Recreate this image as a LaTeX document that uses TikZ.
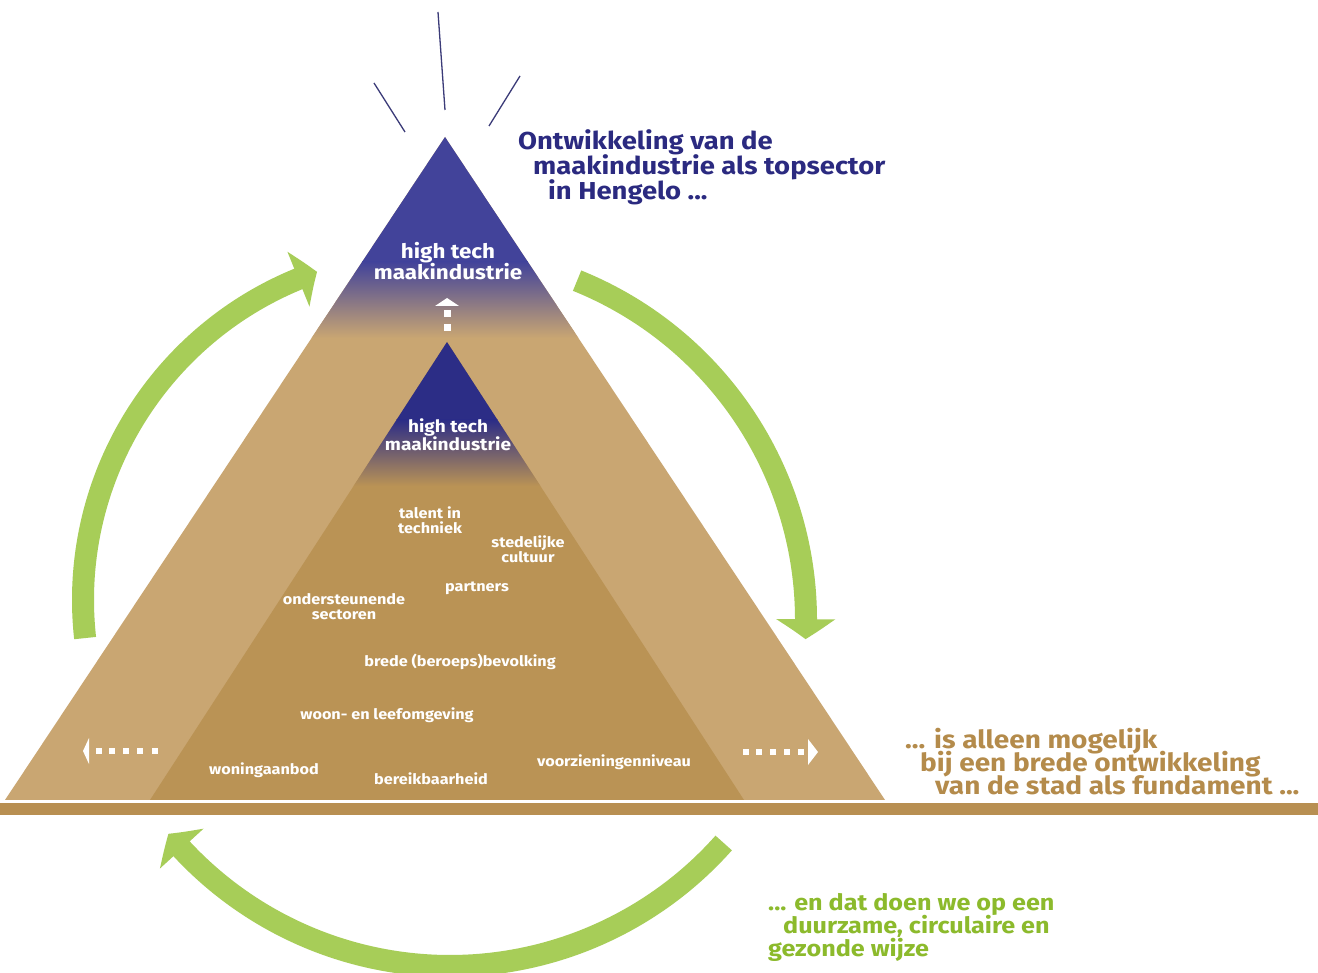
\documentclass[tikz,border=0pt]{standalone}
\usepackage{fontspec}
\setmainfont{Fira Sans}[FakeStretch=1.12]
\usetikzlibrary{arrows.meta,bending}
\definecolor{pblue}{HTML}{42439A}
\definecolor{iblue}{HTML}{2C2D86}
\definecolor{otan}{HTML}{C9A672}
\definecolor{itan}{HTML}{BA9355}
\definecolor{barc}{HTML}{B88F52}
\definecolor{grn}{HTML}{A7CD58}
\definecolor{tblue}{HTML}{2B2A80}
\definecolor{tbrown}{HTML}{B48B4B}
\definecolor{tgreen}{HTML}{8CBA2C}
\definecolor{rayc}{HTML}{3B3B78}
\begin{document}
\begin{tikzpicture}[x=1pt,y=-1pt,
  lbl/.style={text=white,font=\bfseries\fontsize{14.5}{15}\selectfont,align=center,inner sep=0pt},
  toplbl/.style={text=white,font=\bfseries\fontsize{20}{20}\selectfont,align=center,inner sep=0pt},
  innlbl/.style={text=white,font=\bfseries\fontsize{17}{18}\selectfont,align=center,inner sep=0pt},
  sidetxt/.style={anchor=base west,inner sep=0pt},
  bluetxt/.style={sidetxt,text=tblue,font=\bfseries\fontsize{24.5}{25}\selectfont},
  browntxt/.style={sidetxt,text=tbrown,font=\bfseries\fontsize{25}{25}\selectfont},
  greentxt/.style={sidetxt,text=tgreen,font=\bfseries\fontsize{22.5}{23}\selectfont},
  cyc/.style={draw=grn,line width=22pt,-{Triangle[width=58pt,length=20pt,bend]}},
  rayline/.style={draw=rayc,line width=1.3pt},
  dotsq/.style={fill=white}
]
\useasboundingbox (0,0) rectangle (1318,973);
\fill[white] (0,0) rectangle (1318,973);

% rays
\draw[rayline] (438,12) -- (445,110);
\draw[rayline] (374,83) -- (405,132);
\draw[rayline] (520,76) -- (489,126);

% outer pyramid
\begin{scope}
  \clip (445,137) -- (885,800) -- (5,800) -- cycle;
  \fill[otan] (0,130) rectangle (1318,800);
  \fill[pblue] (0,130) rectangle (1318,262);
  \shade[top color=pblue,bottom color=otan] (0,262) rectangle (1318,338);
\end{scope}

% inner pyramid
\begin{scope}
  \clip (447,342) -- (744,800) -- (150,800) -- cycle;
  \fill[itan] (0,340) rectangle (1318,800);
  \fill[iblue] (0,340) rectangle (1318,420);
  \shade[top color=iblue,bottom color=itan] (0,420) rectangle (1318,486);
\end{scope}

% base bar
\fill[barc] (0,803) rectangle (1318,815);

% dotted arrow up
\fill[dotsq] (447,298) -- (459,306) -- (435,306) -- cycle;
\fill[dotsq] (443.5,310.5) rectangle (450.5,317.5);
\fill[dotsq] (443.5,324.5) rectangle (450.5,331.5);

% dotted arrow left
\fill[dotsq] (83,751) -- (89,738) -- (89,764) -- cycle;
\foreach \x in {99,112,126,140,155}{\fill[dotsq] (\x-3,748) rectangle (\x+3,754);}
% dotted arrow right
\foreach \x in {746,759,773,787,801}{\fill[dotsq] (\x-3,749) rectangle (\x+3,755);}
\fill[dotsq] (818,752) -- (808,739) -- (808,765) -- cycle;

% green cycle arrows
\draw[cyc] (430,600) ++(186.3:347pt) arc[start angle=186.3, end angle=109, radius=347pt];
\draw[cyc] (440,620) ++(68:366pt) arc[start angle=68, end angle=-3, radius=366pt];
\draw[cyc] (450,600) ++(-41.6:366pt) arc[start angle=-41.6, end angle=-140.3, radius=366pt];

% labels inside pyramid
\node[toplbl] (topht) at (448,261) {high tech\\maakindustrie};
\node[innlbl] (innht) at (448,435) {high tech\\maakindustrie};
\node[lbl] (talent) at (430,520) {talent in\\techniek};
\node[lbl] (sted) at (528,549) {stedelijke\\cultuur};
\node[lbl] (partners) at (477,588) {partners};
\node[lbl] (onder) at (344,607) {ondersteunende\\sectoren};
\node[lbl] (brede) at (460,662) {brede (beroeps)bevolking};
\node[lbl] (woon) at (387,715) {woon- en leefomgeving};
\node[lbl] (woning) at (264,770) {woningaanbod};
\node[lbl] (bereik) at (431,779) {bereikbaarheid};
\node[lbl] (voorz) at (614,762) {voorzieningenniveau};

% side texts
\node[bluetxt] (ta) at (518,150) {Ontwikkeling van de};
\node[bluetxt] (tb) at (533,175) {maakindustrie als topsector};
\node[bluetxt] (tc) at (548,200) {in Hengelo ...};

\node[browntxt] (ba) at (905,748) {... is alleen mogelijk};
\node[browntxt] (bb) at (920,771) {bij een brede ontwikkeling};
\node[browntxt] (bc) at (935,794) {van de stad als fundament ...};

\node[greentxt] (ga) at (768,910) {... en dat doen we op een};
\node[greentxt] (gb) at (783,933) {duurzame, circulaire en};
\node[greentxt] (gc) at (768,956) {gezonde wijze};
\end{tikzpicture}
\end{document}
